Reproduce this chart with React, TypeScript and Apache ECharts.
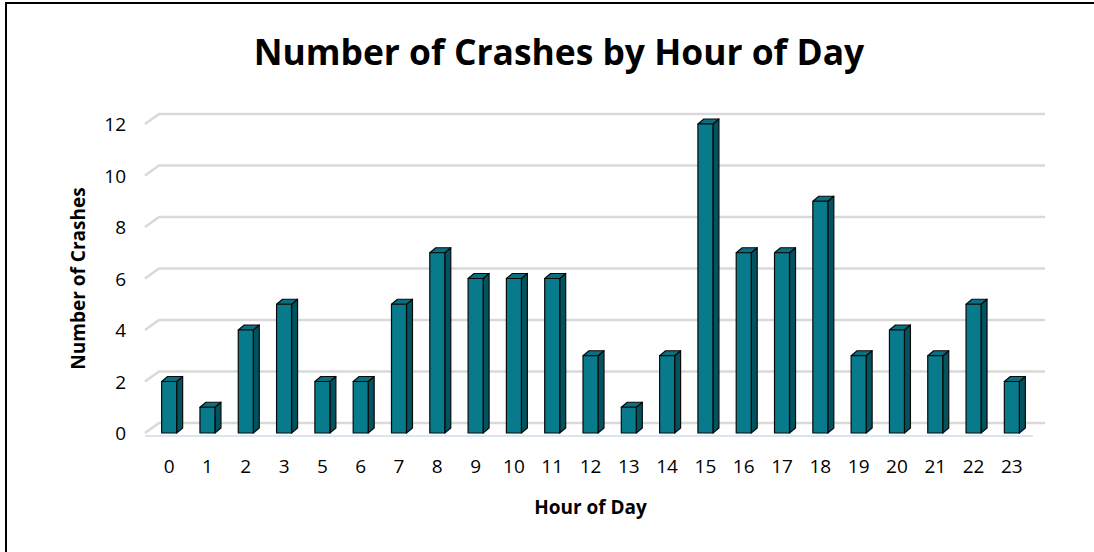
import React, { useEffect, useRef } from "react";
import * as echarts from "echarts";

const hours = ["0","1","2","3","5","6","7","8","9","10","11","12","13","14","15","16","17","18","19","20","21","22","23"];
const crashes = [2,1,4,5,2,2,5,7,6,6,6,3,1,3,12,7,7,9,3,4,3,5,2];
const yTicks = [0,2,4,6,8,10,12];

const FONT = "'Open Sans', sans-serif";

export default function App() {
  const ref = useRef<HTMLDivElement>(null);
  useEffect(() => {
    const chart = echarts.init(ref.current!, null, { renderer: "svg" });
    const option: any = {
      animation: false,
      backgroundColor: "#ffffff",
      title: {
        text: "Number of Crashes by Hour of Day",
        left: 554,
        textAlign: "center",
        top: 28,
        textStyle: { fontFamily: FONT, fontSize: 35.4, fontWeight: "bold", color: "#000" },
      },
      graphic: [
        {
          type: "rect",
          shape: { x: 6, y: 3, width: 1200, height: 700 },
          style: { fill: "none", stroke: "#000", lineWidth: 2 },
          z: 100,
        },
      ],
      grid: { left: 150, right: 63, top: 124, bottom: 119 },
      xAxis: {
        type: "category",
        data: hours,
        name: "Hour of Day",
        nameLocation: "middle",
        nameGap: 64,
        nameTextStyle: { fontFamily: FONT, fontSize: 19, fontWeight: "bold", color: "#000" },
        axisLine: { show: false },
        axisTick: { show: false },
        axisLabel: { fontFamily: FONT, fontSize: 19, color: "#000", margin: 23 },
      },
      yAxis: {
        type: "value",
        min: 0,
        max: 12,
        interval: 2,
        name: "Number of Crashes",
        nameLocation: "middle",
        nameGap: 63,
        nameTextStyle: { fontFamily: FONT, fontSize: 19, fontWeight: "bold", color: "#000" },
        axisLine: { show: false },
        axisTick: { show: false },
        splitLine: { show: false },
        axisLabel: { fontFamily: FONT, fontSize: 19, color: "#000", margin: 24 },
      },
      series: [
        {
          type: "custom",
          silent: true,
          z: 1,
          data: yTicks.map((v) => [0, v]),
          renderItem: (params: any, api: any) => {
            const v = api.value(1);
            const y = api.coord([0, v])[1];
            const cs = params.coordSys;
            const x0 = cs.x - 5;
            const xb = cs.x + 9;
            const xe = cs.x + cs.width + 14;
            const children: any[] = [
              {
                type: "polyline",
                shape: { points: [[x0, y], [xb, y - 10], [xe, y - 10]] },
                style: { stroke: "#d9d9d9", lineWidth: 2.5, fill: "none" },
              },
            ];
            if (v === 0) {
              children.push({
                type: "line",
                shape: { x1: x0, y1: y + 3, x2: cs.x + cs.width + 2, y2: y + 3 },
                style: { stroke: "#dbe5f1", lineWidth: 2 },
              });
            }
            return { type: "group", children };
          },
        },
        {
          type: "custom",
          z: 2,
          data: crashes.map((v, i) => [i, v]),
          renderItem: (params: any, api: any) => {
            const i = api.value(0);
            const v = api.value(1);
            const top = api.coord([i, v]);
            const base = api.coord([i, 0]);
            const w = 15;
            const d = 6;
            const h = 5;
            const xl = top[0] - w / 2;
            const xr = top[0] + w / 2;
            const yt = top[1];
            const yb = base[1];
            const stroke = { stroke: "#0a0a0a", lineWidth: 1.2, lineJoin: "round" };
            return {
              type: "group",
              children: [
                {
                  type: "polygon",
                  shape: { points: [[xr, yt], [xr + d, yt - h], [xr + d, yb - h], [xr, yb]] },
                  style: { fill: "#00535f", ...stroke },
                },
                {
                  type: "polygon",
                  shape: { points: [[xl, yt], [xl + d, yt - h], [xr + d, yt - h], [xr, yt]] },
                  style: { fill: "#0a6f80", ...stroke },
                },
                {
                  type: "rect",
                  shape: { x: xl, y: yt, width: w, height: yb - yt },
                  style: { fill: "#077a8c", ...stroke },
                },
              ],
            };
          },
        },
      ],
    };
    chart.setOption(option);
    return () => chart.dispose();
  }, []);
  return (
    <div
      ref={ref}
      style={{ position: "absolute", left: 0, top: 0, width: 1094, height: 552 }}
    />
  );
}
